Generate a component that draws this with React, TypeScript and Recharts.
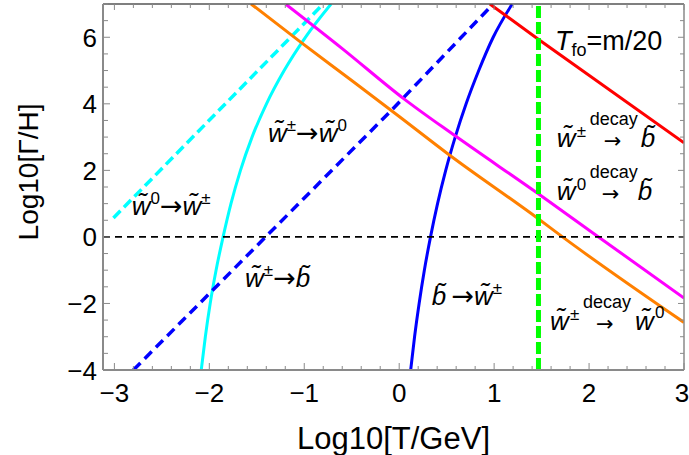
import React from 'react';
import { LineChart, Line, XAxis, YAxis, ReferenceLine, ReferenceDot } from 'recharts';

// x: Log10[T/GeV], y: Log10[Γ/H]
const cyanDashed = [
  { x: -3.01, y: 0.57 },
  { x: -0.80, y: 7.0 },
];
const cyanSolid = [
  { x: -2.085, y: -4.0 },
  { x: -2.042, y: -3.0 },
  { x: -1.991, y: -2.0 },
  { x: -1.929, y: -1.0 },
  { x: -1.855, y: 0.0 },
  { x: -1.772, y: 1.0 },
  { x: -1.672, y: 2.0 },
  { x: -1.550, y: 3.0 },
  { x: -1.398, y: 4.0 },
  { x: -1.212, y: 5.0 },
  { x: -0.988, y: 6.0 },
  { x: -0.718, y: 7.0 },
];
const blueDashed = [
  { x: -2.80, y: -4.0 },
  { x: -0.097, y: 3.76 },
  { x: 0.99, y: 7.0 },
];
const blueSolid = [
  { x: 0.121, y: -4.0 },
  { x: 0.162, y: -3.0 },
  { x: 0.210, y: -2.0 },
  { x: 0.265, y: -1.0 },
  { x: 0.330, y: 0.0 },
  { x: 0.404, y: 1.0 },
  { x: 0.490, y: 2.0 },
  { x: 0.590, y: 3.0 },
  { x: 0.705, y: 4.0 },
  { x: 0.838, y: 5.0 },
  { x: 0.990, y: 6.0 },
  { x: 1.190, y: 7.0 },
];
const redLine = [
  { x: 0.955, y: 7.0 },
  { x: 1.465, y: 5.94 },
  { x: 3.0, y: 2.83 },
];
const magentaLine = [
  { x: -1.197, y: 7.0 },
  { x: -0.60, y: 5.66 },
  { x: 0.05, y: 4.15 },
  { x: 0.578, y: 3.06 },
  { x: 1.458, y: 1.31 },
  { x: 2.07, y: 0.06 },
  { x: 3.0, y: -1.84 },
];
const orangeLine = [
  { x: -1.56, y: 7.0 },
  { x: -1.045, y: 5.87 },
  { x: -0.50, y: 4.70 },
  { x: 0.0, y: 3.62 },
  { x: 0.525, y: 2.47 },
  { x: 1.458, y: 0.56 },
  { x: 1.72, y: 0.0 },
  { x: 3.0, y: -2.57 },
];
const freezeOutX = 1.467;

const xMajorTicks = [-3, -2, -1, 0, 1, 2, 3];
const yMajorTicks = [-4, -2, 0, 2, 4, 6];
const xAllTicks: number[] = [];
for (let i = -15; i <= 15; i++) xAllTicks.push(Math.round(i * 2) / 10);
const yAllTicks: number[] = [];
for (let i = -8; i <= 14; i++) yAllTicks.push(i / 2);

const X_DOMAIN: [number, number] = [-3.12, 3.0];
const Y_DOMAIN: [number, number] = [-4, 7];

const FONT = "'Liberation Sans', Arial, Helvetica, sans-serif";
const ARROW_FONT = "'DejaVu Sans', sans-serif";
const FRAME = '#8a8a8a';
const isMajor = (v: number, m: number[]) => m.some((t) => Math.abs(t - v) < 1e-6);
const fmt = (v: number) => (v < 0 ? '\u2212' + Math.abs(v) : String(v));

function BottomTick(props: any) {
  const { x, y, payload } = props;
  const major = isMajor(payload.value, xMajorTicks);
  const shift = payload.value >= 3 ? -2 : 0;
  return (
    <g>
      <line x1={x} x2={x} y1={y} y2={y - (major ? 7 : 4)} stroke={FRAME} strokeWidth={1} />
      {major && (
        <text x={x + shift} y={y + 32} textAnchor="middle" fontSize={26} fontFamily={FONT} fill="#000">
          {fmt(payload.value)}
        </text>
      )}
    </g>
  );
}
function TopTick(props: any) {
  const { x, y, payload } = props;
  const major = isMajor(payload.value, xMajorTicks);
  return <line x1={x} x2={x} y1={y} y2={y + (major ? 6 : 4)} stroke={FRAME} strokeWidth={1} />;
}
function LeftTick(props: any) {
  const { x, y, payload } = props;
  const major = isMajor(payload.value, yMajorTicks);
  return (
    <g>
      <line x1={x} x2={x + (major ? 7 : 5)} y1={y} y2={y} stroke={FRAME} strokeWidth={1} />
      {major && (
        <text x={x - 6} y={y + 9.5} textAnchor="end" fontSize={26} fontFamily={FONT} fill="#000">
          {fmt(payload.value)}
        </text>
      )}
    </g>
  );
}
function RightTick(props: any) {
  const { x, y, payload } = props;
  const major = isMajor(payload.value, yMajorTicks);
  return <line x1={x} x2={x - (major ? 6 : 4)} y1={y} y2={y} stroke={FRAME} strokeWidth={1} />;
}

const W = 'w\u0303';
const B = 'b\u0303';
const MAIN = 26;
const SUP = 17;

function Simple({ cx, cy, parts }: any) {
  return (
    <text x={cx} y={cy} fontSize={MAIN} fontFamily={FONT} fill="#000">
      {parts}
    </text>
  );
}

function labelAt(x: number, y: number, render: (cx: number, cy: number) => React.ReactElement, key: string) {
  return (
    <ReferenceDot
      key={key}
      xAxisId="b"
      yAxisId="l"
      x={x}
      y={y}
      r={1}
      ifOverflow="visible"
      shape={(p: any) => render(p.cx, p.cy)}
    />
  );
}

const it = (s: string) => <tspan fontStyle="italic">{s}</tspan>;
const arrow = (dy: number) => (
  <tspan dy={dy} fontFamily={ARROW_FONT} fontSize={27}>{'\u2192'}</tspan>
);

function Decay({ cx, cy, head, headSup, tail, tailSup, arrowDx, arrowDy, tailDx }: any) {
  return (
    <g transform={`translate(${cx},${cy})`} fontFamily={FONT} fill="#000">
      <text x={0} y={0} fontSize={MAIN} fontStyle="italic">{head}</text>
      <text x={20} y={-10} fontSize={SUP}>{headSup}</text>
      <text x={33} y={-22} fontSize={18}>decay</text>
      <text x={arrowDx} y={arrowDy} fontSize={21} fontFamily={ARROW_FONT}>{'\u2192'}</text>
      <text x={tailDx} y={0} fontSize={MAIN} fontStyle="italic">{tail}</text>
      {tailSup && <text x={tailDx + 20} y={-12} fontSize={SUP}>{tailSup}</text>}
    </g>
  );
}

const yLabel = () => (
  <text transform="translate(38,172) rotate(-90)" textAnchor="middle" fontSize={28} fontFamily={FONT} fill="#000">
    Log10[Γ/H]
  </text>
);

export default function App() {
  return (
    <div style={{ position: 'absolute', left: 0, top: 0, background: '#fff' }}>
      <LineChart width={689} height={455} margin={{ top: 0, right: 0, bottom: 0, left: 0 }}>
        <XAxis
          xAxisId="b"
          type="number"
          dataKey="x"
          orientation="bottom"
          domain={X_DOMAIN}
          allowDataOverflow
          ticks={xAllTicks}
          interval={0}
          height={85}
          tickSize={0}
          tickMargin={0}
          tickLine={false}
          tick={<BottomTick />}
          axisLine={{ stroke: FRAME, strokeWidth: 2 }}
          label={{ value: 'Log10[T/GeV]', position: 'insideBottom', offset: 6, fontSize: 31, fontFamily: FONT, fill: '#000' } as any}
        />
        <XAxis
          xAxisId="t"
          type="number"
          dataKey="x"
          orientation="top"
          domain={X_DOMAIN}
          allowDataOverflow
          ticks={xAllTicks}
          interval={0}
          height={4}
          tickSize={0}
          tickMargin={0}
          tickLine={false}
          tick={<TopTick />}
          axisLine={{ stroke: '#555', strokeWidth: 1.3 }}
        />
        <YAxis
          yAxisId="l"
          type="number"
          dataKey="y"
          orientation="left"
          domain={Y_DOMAIN}
          allowDataOverflow
          ticks={yAllTicks}
          interval={0}
          width={103}
          tickSize={0}
          tickMargin={0}
          tickLine={false}
          tick={<LeftTick />}
          axisLine={{ stroke: FRAME, strokeWidth: 2 }}
          label={{ content: yLabel } as any}
        />
        <YAxis
          yAxisId="r"
          type="number"
          dataKey="y"
          orientation="right"
          domain={Y_DOMAIN}
          allowDataOverflow
          ticks={yAllTicks}
          interval={0}
          width={5}
          tickSize={0}
          tickMargin={0}
          tickLine={false}
          tick={<RightTick />}
          axisLine={{ stroke: FRAME, strokeWidth: 1.5 }}
        />
        <Line xAxisId="b" yAxisId="l" data={cyanDashed} dataKey="y" type="linear" stroke="#00FFFF" strokeWidth={3.5} strokeDasharray="10 5" dot={false} isAnimationActive={false} />
        <Line xAxisId="b" yAxisId="l" data={cyanSolid} dataKey="y" type="monotone" stroke="#00FFFF" strokeWidth={3} dot={false} isAnimationActive={false} />
        <Line xAxisId="b" yAxisId="l" data={blueDashed} dataKey="y" type="linear" stroke="#0000FF" strokeWidth={3.5} strokeDasharray="10 6" dot={false} isAnimationActive={false} />
        <Line xAxisId="b" yAxisId="l" data={blueSolid} dataKey="y" type="monotone" stroke="#0000FF" strokeWidth={3} dot={false} isAnimationActive={false} />
        <Line xAxisId="b" yAxisId="l" data={orangeLine} dataKey="y" type="monotone" stroke="#FF8000" strokeWidth={3} dot={false} isAnimationActive={false} />
        <Line xAxisId="b" yAxisId="l" data={magentaLine} dataKey="y" type="monotone" stroke="#FF00FF" strokeWidth={3} dot={false} isAnimationActive={false} />
        <Line xAxisId="b" yAxisId="l" data={redLine} dataKey="y" type="linear" stroke="#FF0000" strokeWidth={3} dot={false} isAnimationActive={false} />
        <ReferenceLine xAxisId="b" yAxisId="l" y={0} stroke="#000" strokeWidth={1.8} strokeDasharray="7 5" />
        <ReferenceLine xAxisId="b" yAxisId="l" x={freezeOutX} stroke="#00FF00" strokeWidth={5} strokeDasharray="12 4" />
        {labelAt(-2.818, 0.658, (cx, cy) => (
          <Simple cx={cx} cy={cy} parts={<>{it(W)}<tspan fontSize={SUP} dy={-11}>0</tspan>{arrow(11)}{it(W)}<tspan fontSize={SUP} dy={-11}>±</tspan></>} />
        ), 'l1')}
        {labelAt(-1.382, 2.861, (cx, cy) => (
          <Simple cx={cx} cy={cy} parts={<>{it(W)}<tspan fontSize={SUP} dy={-11}>±</tspan>{arrow(11)}{it(W)}<tspan fontSize={SUP} dy={-11}>0</tspan></>} />
        ), 'l2')}
        {labelAt(-1.624, -1.496, (cx, cy) => (
          <Simple cx={cx} cy={cy} parts={<>{it(W)}<tspan fontSize={SUP} dy={-11}>±</tspan>{arrow(11)}{it(B)}</>} />
        ), 'l3')}
        {labelAt(0.343, -2.046, (cx, cy) => (
          <Simple cx={cx} cy={cy} parts={<>{it(B)}<tspan>{'\u2009'}</tspan>{arrow(0)}{it(W)}<tspan fontSize={SUP} dy={-11}>±</tspan></>} />
        ), 'l4')}
        {labelAt(1.641, 5.618, (cx, cy) => (
          <text x={cx} y={cy} fontSize={27} fontFamily={FONT} fill="#000">
            <tspan fontStyle="italic">T</tspan>
            <tspan fontSize={18} dy={6}>fo</tspan>
            <tspan dy={-6}>=m/20</tspan>
          </text>
        ), 'l5')}
        {labelAt(1.659, 2.711, (cx, cy) => (
          <Decay cx={cx} cy={cy} head={W} headSup="±" tail={B} arrowDx={47} arrowDy={1} tailDx={84} />
        ), 'l6')}
        {labelAt(1.659, 1.109, (cx, cy) => (
          <Decay cx={cx} cy={cy} head={W} headSup="0" tail={B} arrowDx={45} arrowDy={1} tailDx={81} />
        ), 'l7')}
        {labelAt(1.589, -2.798, (cx, cy) => (
          <Decay cx={cx} cy={cy} head={W} headSup="±" tail={W} tailSup="0" arrowDx={46} arrowDy={1} tailDx={85} />
        ), 'l8')}
      </LineChart>
    </div>
  );
}
